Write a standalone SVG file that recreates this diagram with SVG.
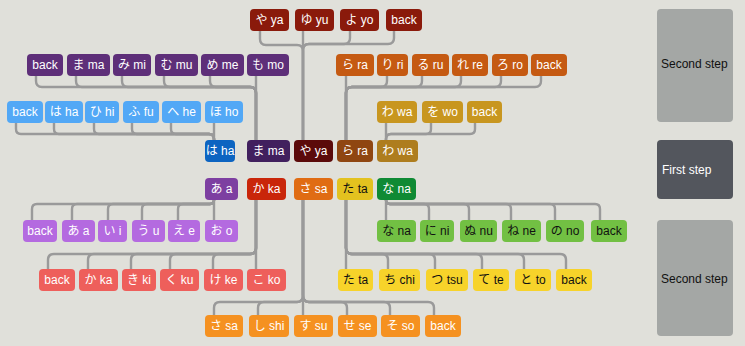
<svg xmlns="http://www.w3.org/2000/svg" width="745" height="346" viewBox="0 0 745 346">
<style>
rect{rx:4px;ry:4px}
text{font-family:"Liberation Sans","Noto Sans CJK JP",sans-serif;font-size:12px;text-anchor:middle;fill:#fff}
.dk text{fill:#111}
.c path{fill:none;stroke:#9a9a9a;stroke-width:2.4}
.r1 rect{fill:#8a1a0b}
.pm rect{fill:#5e2f79}
.or rect{fill:#c55a12}
.lb rect{fill:#52a8f6}
.gd rect{fill:#c8961f}
.lp rect{fill:#b46ae0}
.gr rect{fill:#72c043}
.rd rect{fill:#ee5f5b}
.yl rect{fill:#f7d32a}
.og rect{fill:#f59120}
.step text{text-anchor:start;fill:#111}
</style>
<rect x="0" y="0" width="745" height="346" style="rx:0;ry:0" fill="#e0e0da"/>
<g class="c" id="connectors">
<!-- ya tree -->
<path d="M260,31 V39 Q260,45 266,45 H297 Q303,45 303,51 V140"/>
<path d="M303,31 V140"/>
<path d="M350,31 V38 Q350,44 344,44 H309 Q303,44 303,50 V140"/>
<path d="M394,31 V38 Q394,44 388,44 H309 Q303,44 303,50 V140"/>
<!-- ma tree -->
<path d="M36,76 V81 Q36,87 42,87 H250 Q256,87 256,93 V140"/>
<path d="M76,76 V81 Q76,87 82,87 H250 Q256,87 256,93 V140"/>
<path d="M122,76 V81 Q122,87 128,87 H250 Q256,87 256,93 V140"/>
<path d="M164,76 V81 Q164,87 170,87 H250 Q256,87 256,93 V140"/>
<path d="M210,76 V81 Q210,87 216,87 H250 Q256,87 256,93 V140"/>
<path d="M256,76 V140"/>
<!-- ra tree -->
<path d="M346,76 V140"/>
<path d="M387,76 V81 Q387,87 381,87 H352 Q346,87 346,93 V140"/>
<path d="M422,76 V81 Q422,87 416,87 H352 Q346,87 346,93 V140"/>
<path d="M461,76 V81 Q461,87 455,87 H352 Q346,87 346,93 V140"/>
<path d="M501,76 V81 Q501,87 495,87 H352 Q346,87 346,93 V140"/>
<path d="M541,76 V81 Q541,87 535,87 H352 Q346,87 346,93 V140"/>
<!-- ha tree -->
<path d="M16,123 V129 Q16,134 21,134 H209 Q214,134 214,139 V140"/>
<path d="M54,123 V129 Q54,134 59,134 H209 Q214,134 214,139 V140"/>
<path d="M94,123 V129 Q94,134 99,134 H209 Q214,134 214,139 V140"/>
<path d="M132,123 V129 Q132,134 137,134 H209 Q214,134 214,139 V140"/>
<path d="M171,123 V129 Q171,134 176,134 H209 Q214,134 214,139 V140"/>
<path d="M214,123 V140"/>
<!-- wa tree -->
<path d="M386,123 V140"/>
<path d="M431,123 V129 Q431,134 426,134 H391 Q386,134 386,139 V140"/>
<path d="M475,123 V129 Q475,134 470,134 H391 Q386,134 386,139 V140"/>
<!-- a tree -->
<path d="M214,200 Q214,204 210,204 H37 Q32,204 32,209 V220"/>
<path d="M214,200 Q214,204 210,204 H77 Q72,204 72,209 V220"/>
<path d="M214,200 Q214,204 210,204 H113 Q108,204 108,209 V220"/>
<path d="M214,200 Q214,204 210,204 H147 Q142,204 142,209 V220"/>
<path d="M214,200 Q214,204 210,204 H183 Q178,204 178,209 V220"/>
<path d="M214,200 V220"/>
<!-- na tree -->
<path d="M386,200 V220"/>
<path d="M386,200 Q386,204 390,204 H424 Q429,204 429,209 V220"/>
<path d="M386,200 Q386,204 390,204 H464 Q469,204 469,209 V220"/>
<path d="M386,200 Q386,204 390,204 H506 Q511,204 511,209 V220"/>
<path d="M386,200 Q386,204 390,204 H550 Q555,204 555,209 V220"/>
<path d="M386,200 Q386,204 390,204 H595 Q600,204 600,209 V220"/>
<!-- ka tree -->
<path d="M256,200 V248 Q256,254 250,254 H54 Q48,254 48,260 V269"/>
<path d="M256,200 V248 Q256,254 250,254 H94 Q88,254 88,260 V269"/>
<path d="M256,200 V248 Q256,254 250,254 H137 Q131,254 131,260 V269"/>
<path d="M256,200 V248 Q256,254 250,254 H176 Q170,254 170,260 V269"/>
<path d="M256,200 V248 Q256,254 250,254 H219 Q213,254 213,260 V269"/>
<path d="M256,200 V269"/>
<!-- ta tree -->
<path d="M346,200 V269"/>
<path d="M346,200 V248 Q346,254 352,254 H382 Q388,254 388,260 V269"/>
<path d="M346,200 V248 Q346,254 352,254 H429 Q435,254 435,260 V269"/>
<path d="M346,200 V248 Q346,254 352,254 H476 Q482,254 482,260 V269"/>
<path d="M346,200 V248 Q346,254 352,254 H518 Q524,254 524,260 V269"/>
<path d="M346,200 V248 Q346,254 352,254 H560 Q566,254 566,260 V269"/>
<!-- sa tree -->
<path d="M303,200 V295 Q303,302 297,302 H220 Q214,302 214,308 V315"/>
<path d="M303,200 V295 Q303,302 297,302 H264 Q258,302 258,308 V315"/>
<path d="M303,200 V315"/>
<path d="M303,200 V295 Q303,302 309,302 H341 Q347,302 347,308 V315"/>
<path d="M303,200 V295 Q303,302 309,302 H384 Q390,302 390,308 V315"/>
<path d="M303,200 V295 Q303,302 309,302 H428 Q434,302 434,308 V315"/>
</g>
<!-- row 1 -->
<g id="ya-ya" class="r1"><rect x="250" y="9" width="39" height="22"/><text x="269.5" y="24">や ya</text></g>
<g id="ya-yu" class="r1"><rect x="295" y="9" width="39" height="22"/><text x="314.5" y="24">ゆ yu</text></g>
<g id="ya-yo" class="r1"><rect x="340" y="9" width="39" height="22"/><text x="359.5" y="24">よ yo</text></g>
<g id="ya-back" class="r1"><rect x="386" y="9" width="36" height="22"/><text x="404" y="24">back</text></g>
<!-- row 2 -->
<g id="ma-back" class="pm"><rect x="27" y="54" width="36" height="22"/><text x="45" y="69">back</text></g>
<g id="ma-ma" class="pm"><rect x="67" y="54" width="43" height="22"/><text x="88.5" y="69">ま ma</text></g>
<g id="ma-mi" class="pm"><rect x="113" y="54" width="38" height="22"/><text x="132" y="69">み mi</text></g>
<g id="ma-mu" class="pm"><rect x="155" y="54" width="43" height="22"/><text x="176.5" y="69">む mu</text></g>
<g id="ma-me" class="pm"><rect x="201" y="54" width="43" height="22"/><text x="222.5" y="69">め me</text></g>
<g id="ma-mo" class="pm"><rect x="247" y="54" width="42" height="22"/><text x="268" y="69">も mo</text></g>
<g id="ra-ra" class="or"><rect x="336" y="54" width="38" height="22"/><text x="355" y="69">ら ra</text></g>
<g id="ra-ri" class="or"><rect x="377" y="54" width="31" height="22"/><text x="392.5" y="69">り ri</text></g>
<g id="ra-ru" class="or"><rect x="412" y="54" width="37" height="22"/><text x="430.5" y="69">る ru</text></g>
<g id="ra-re" class="or"><rect x="452" y="54" width="36" height="22"/><text x="470" y="69">れ re</text></g>
<g id="ra-ro" class="or"><rect x="492" y="54" width="36" height="22"/><text x="510" y="69">ろ ro</text></g>
<g id="ra-back" class="or"><rect x="531" y="54" width="36" height="22"/><text x="549" y="69">back</text></g>
<!-- row 3 -->
<g id="ha-back" class="lb"><rect x="7" y="101" width="36" height="22"/><text x="25" y="116">back</text></g>
<g id="ha-ha" class="lb"><rect x="45" y="101" width="38" height="22"/><text x="64" y="116">は ha</text></g>
<g id="ha-hi" class="lb"><rect x="85" y="101" width="34" height="22"/><text x="102" y="116">ひ hi</text></g>
<g id="ha-fu" class="lb"><rect x="123" y="101" width="36" height="22"/><text x="141" y="116">ふ fu</text></g>
<g id="ha-he" class="lb"><rect x="162" y="101" width="39" height="22"/><text x="181.5" y="116">へ he</text></g>
<g id="ha-ho" class="lb"><rect x="205" y="101" width="38" height="22"/><text x="224" y="116">ほ ho</text></g>
<g id="wa-wa" class="gd"><rect x="377" y="101" width="40" height="22"/><text x="397" y="116">わ wa</text></g>
<g id="wa-wo" class="gd"><rect x="422" y="101" width="41" height="22"/><text x="442.5" y="116">を wo</text></g>
<g id="wa-back" class="gd"><rect x="467" y="101" width="35" height="22"/><text x="484.5" y="116">back</text></g>
<!-- row 4 main -->
<g id="main-ha"><rect x="205" y="140" width="30" height="22" fill="#0c64c1"/><text x="220" y="155">は ha</text></g>
<g id="main-ma"><rect x="247" y="140" width="43" height="22" fill="#41205e"/><text x="268.5" y="155">ま ma</text></g>
<g id="main-ya"><rect x="294" y="140" width="39" height="22" fill="#5b0a0a"/><text x="313.5" y="155">や ya</text></g>
<g id="main-ra"><rect x="337" y="140" width="36" height="22" fill="#8f4611"/><text x="355" y="155">ら ra</text></g>
<g id="main-wa"><rect x="377" y="140" width="41" height="22" fill="#ae7d1e"/><text x="397.5" y="155">わ wa</text></g>
<!-- row 5 main -->
<g id="main-a"><rect x="205" y="178" width="33" height="22" fill="#7d3fa1"/><text x="221.5" y="193">あ a</text></g>
<g id="main-ka"><rect x="247" y="178" width="39" height="22" fill="#c9260a"/><text x="266.5" y="193">か ka</text></g>
<g id="main-sa"><rect x="294" y="178" width="39" height="22" fill="#e06c13"/><text x="313.5" y="193">さ sa</text></g>
<g id="main-ta" class="dk"><rect x="337" y="178" width="36" height="22" fill="#e3c21f"/><text x="355" y="193">た ta</text></g>
<g id="main-na"><rect x="377" y="178" width="39" height="22" fill="#0f8a34"/><text x="396.5" y="193">な na</text></g>
<!-- row 6 -->
<g id="a-back" class="lp"><rect x="23" y="220" width="34" height="22"/><text x="40" y="235">back</text></g>
<g id="a-a" class="lp"><rect x="62" y="220" width="33" height="22"/><text x="78.5" y="235">あ a</text></g>
<g id="a-i" class="lp"><rect x="98" y="220" width="29" height="22"/><text x="112.5" y="235">い i</text></g>
<g id="a-u" class="lp"><rect x="132" y="220" width="33" height="22"/><text x="148.5" y="235">う u</text></g>
<g id="a-e" class="lp"><rect x="168" y="220" width="32" height="22"/><text x="184" y="235">え e</text></g>
<g id="a-o" class="lp"><rect x="205" y="220" width="33" height="22"/><text x="221.5" y="235">お o</text></g>
<g id="na-na" class="gr dk"><rect x="377" y="220" width="39" height="22"/><text x="396.5" y="235">な na</text></g>
<g id="na-ni" class="gr dk"><rect x="420" y="220" width="34" height="22"/><text x="437" y="235">に ni</text></g>
<g id="na-nu" class="gr dk"><rect x="460" y="220" width="37" height="22"/><text x="478.5" y="235">ぬ nu</text></g>
<g id="na-ne" class="gr dk"><rect x="502" y="220" width="39" height="22"/><text x="521.5" y="235">ね ne</text></g>
<g id="na-no" class="gr dk"><rect x="546" y="220" width="38" height="22"/><text x="565" y="235">の no</text></g>
<g id="na-back" class="gr dk"><rect x="591" y="220" width="36" height="22"/><text x="609" y="235">back</text></g>
<!-- row 7 -->
<g id="ka-back" class="rd"><rect x="39" y="269" width="36" height="22"/><text x="57" y="284">back</text></g>
<g id="ka-ka" class="rd"><rect x="79" y="269" width="39" height="22"/><text x="98.5" y="284">か ka</text></g>
<g id="ka-ki" class="rd"><rect x="122" y="269" width="34" height="22"/><text x="139" y="284">き ki</text></g>
<g id="ka-ku" class="rd"><rect x="160" y="269" width="39" height="22"/><text x="179.5" y="284">く ku</text></g>
<g id="ka-ke" class="rd"><rect x="204" y="269" width="39" height="22"/><text x="223.5" y="284">け ke</text></g>
<g id="ka-ko" class="rd"><rect x="247" y="269" width="39" height="22"/><text x="266.5" y="284">こ ko</text></g>
<g id="ta-ta" class="yl dk"><rect x="338" y="269" width="35" height="22"/><text x="355.5" y="284">た ta</text></g>
<g id="ta-chi" class="yl dk"><rect x="379" y="269" width="41" height="22"/><text x="399.5" y="284">ち chi</text></g>
<g id="ta-tsu" class="yl dk"><rect x="426" y="269" width="42" height="22"/><text x="447" y="284">つ tsu</text></g>
<g id="ta-te" class="yl dk"><rect x="473" y="269" width="36" height="22"/><text x="491" y="284">て te</text></g>
<g id="ta-to" class="yl dk"><rect x="515" y="269" width="36" height="22"/><text x="533" y="284">と to</text></g>
<g id="ta-back" class="yl dk"><rect x="556" y="269" width="36" height="22"/><text x="574" y="284">back</text></g>
<!-- row 8 -->
<g id="sa-sa" class="og"><rect x="205" y="315" width="38" height="22"/><text x="224" y="330">さ sa</text></g>
<g id="sa-shi" class="og"><rect x="249" y="315" width="40" height="22"/><text x="269" y="330">し shi</text></g>
<g id="sa-su" class="og"><rect x="294" y="315" width="39" height="22"/><text x="313.5" y="330">す su</text></g>
<g id="sa-se" class="og"><rect x="338" y="315" width="39" height="22"/><text x="357.5" y="330">せ se</text></g>
<g id="sa-so" class="og"><rect x="381" y="315" width="39" height="22"/><text x="400.5" y="330">そ so</text></g>
<g id="sa-back" class="og"><rect x="425" y="315" width="36" height="22"/><text x="443" y="330">back</text></g>
<!-- step labels -->
<g id="step-top" class="step"><rect x="657" y="9" width="76" height="113" fill="#a4a7a5"/><text x="661" y="68">Second step</text></g>
<g id="step-first" class="step"><rect x="657" y="140" width="76" height="59" fill="#53565d"/><text x="662" y="174" style="fill:#fff">First step</text></g>
<g id="step-bottom" class="step"><rect x="657" y="220" width="76" height="116" fill="#a4a7a5"/><text x="661" y="283">Second step</text></g>
</svg>
